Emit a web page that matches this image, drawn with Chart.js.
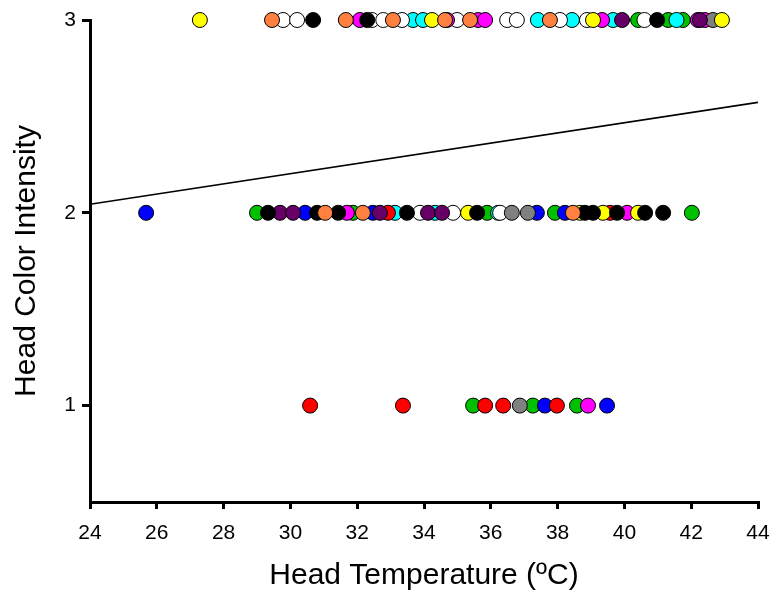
<!DOCTYPE html>
<html>
<head>
<meta charset="utf-8">
<script src="https://cdn.jsdelivr.net/npm/chart.js@4"></script>
<style>
  html, body { margin: 0; padding: 0; background: #fff; }
  #wrap { width: 772px; height: 595px; }
</style>
</head>
<body>
<div id="wrap"><canvas id="headChart" width="772" height="595"></canvas></div>
<script>
// points, [head temperature, colour intensity]
const orangePts = [[29.45,3],[31.66,3],[33.07,3],[34.63,3],[35.38,3],[37.77,3],
  [31.04,2],[32.17,2],[38.46,2]];
const blackPts = [[30.68,3],[32.3,3],[40.98,3],
  [29.33,2],[30.8,2],[31.43,2],[33.49,2],[35.59,2],[38.82,2],[39.06,2],[39.78,2],[40.62,2],[41.16,2]];
const yellowPts = [[27.29,3],[34.24,3],[39.06,3],[42.92,3],
  [35.32,2],[38.67,2],[39.36,2],[40.41,2]];
const purplePts = [[39.93,3],[42.26,3],
  [29.69,2],[30.08,2],[32.68,2],[34.12,2],[34.54,2]];
const grayPts = [[42.65,3],[36.63,2],[37.11,2],[36.87,1]];
const redPts = [[32.92,2],[39.57,2],
  [30.59,1],[33.37,1],[35.83,1],[36.37,1],[37.98,1]];
const bluePts = [[25.68,2],[30.44,2],[32.47,2],[37.38,2],[38.22,2],
  [37.62,1],[39.48,1]];
const magentaPts = [[32.08,3],[34.69,3],[35.62,3],[35.83,3],[39.33,3],[42.2,3],[42.41,3],
  [31.69,2],[40.08,2],[38.91,1]];
const whitePts = [[29.78,3],[30.2,3],[32.44,3],[32.78,3],[33.34,3],[34.99,3],[36.49,3],[36.78,3],
  [38.07,3],[38.88,3],[40.6,3],
  [33.88,2],[34.87,2],[36.28,2]];
const cyanPts = [[33.67,3],[33.97,3],[37.41,3],[38.43,3],[39.66,3],[41.56,3],
  [33.13,2],[34.33,2],[36.22,2]];
const greenPts = [[40.41,3],[41.31,3],[41.75,3],
  [29.0,2],[31.87,2],[35.89,2],[37.92,2],[42.02,2],
  [35.47,1],[37.26,1],[38.58,1]];

// regression line
const fitX = [24, 44];
const fitY = [2.044, 2.573];

const xTicks = [24, 26, 28, 30, 32, 34, 36, 38, 40, 42, 44];
const yTicks = [1, 2, 3];

const groups = [
  [orangePts, 'rgb(255,128,64)'],
  [blackPts, '#000000'],
  [yellowPts, '#ffff00'],
  [purplePts, 'rgb(102,0,102)'],
  [grayPts, 'rgb(128,128,128)'],
  [redPts, '#ff0000'],
  [bluePts, '#0000ff'],
  [magentaPts, '#ff00ff'],
  [whitePts, '#ffffff'],
  [cyanPts, '#00ffff'],
  [greenPts, 'rgb(0,192,0)']
];

const datasets = groups.map(([pts, col]) => ({
  type: 'scatter',
  data: pts.map(p => ({ x: p[0], y: p[1] })),
  backgroundColor: col,
  borderColor: '#000',
  borderWidth: 1,
  pointRadius: 7.5,
  pointHoverRadius: 7.5,
  clip: false
}));

datasets.unshift({
  type: 'line',
  data: fitX.map((x, i) => ({ x: x, y: fitY[i] })),
  borderColor: '#000',
  borderWidth: 1.6,
  pointRadius: 0,
  fill: false
});

const font = 'Liberation Sans, Arial, sans-serif';

const ctx = document.getElementById('headChart').getContext('2d');
new Chart(ctx, {
  type: 'scatter',
  data: { datasets: datasets },
  options: {
    responsive: false,
    animation: false,
    layout: { padding: { top: 20, right: 14, left: 0, bottom: 0 } },
    plugins: { legend: { display: false }, tooltip: { enabled: false } },
    scales: {
      x: {
        type: 'linear',
        min: 24, max: 44,
        afterBuildTicks: axis => { axis.ticks = xTicks.map(v => ({ value: v })); },
        afterFit: axis => { axis.height = 93; axis.paddingLeft = 0; axis.paddingRight = 0; },
        border: { color: '#000', width: 3 },
        grid: { drawOnChartArea: false, drawTicks: true, tickLength: 7, color: '#000', lineWidth: 3 },
        ticks: { color: '#000', padding: 12, font: { family: font, size: 21 } },
        title: { display: true, text: 'Head Temperature (ºC)', color: '#000', padding: { top: 4 },
          font: { family: font, size: 30, lineHeight: 1.0 } }
      },
      y: {
        type: 'linear',
        min: 0.5, max: 3,
        afterBuildTicks: axis => { axis.ticks = yTicks.map(v => ({ value: v })); },
        afterFit: axis => { axis.width = 90; axis.paddingTop = 0; axis.paddingBottom = 0; },
        border: { color: '#000', width: 3 },
        grid: { drawOnChartArea: false, drawTicks: true, tickLength: 8, color: '#000', lineWidth: 3 },
        ticks: { color: '#000', padding: 6, font: { family: font, size: 21 } },
        title: { display: true, text: 'Head Color Intensity', color: '#000', padding: { bottom: 2 },
          font: { family: font, size: 30, lineHeight: 1.5 } }
      }
    }
  }
});
</script>
</body>
</html>
